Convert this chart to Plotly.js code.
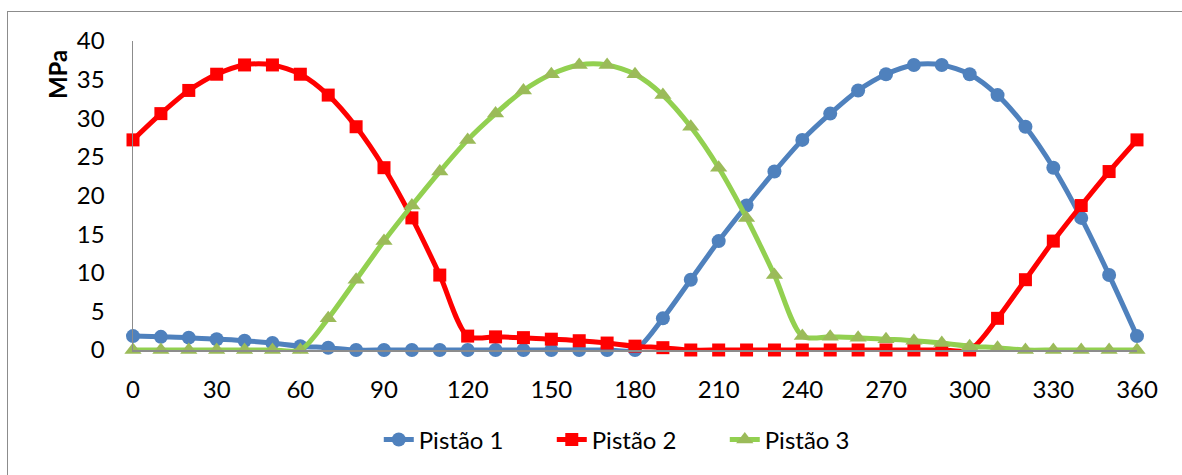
<!DOCTYPE html>
<html>
<head>
<meta charset="utf-8">
<script src="https://cdn.plot.ly/plotly-3.0.1.min.js"></script>
<style>
  html, body { margin: 0; padding: 0; background: #fff; }
  #wrap { position: relative; width: 1182px; height: 475px; overflow: hidden; }
  #chart { position: absolute; left: 0; top: 0; width: 1182px; height: 475px; }
  #frame { position: absolute; left: 7px; top: 11px; width: 1200px; height: 500px;
           border: 1.5px solid #8c8c8c; box-sizing: border-box; pointer-events: none; }
</style>
</head>
<body>
<div id="wrap">
  <div id="chart"></div>
  <div id="frame"></div>
</div>
<script>
const angles = [0,10,20,30,40,50,60,70,80,90,100,110,120,130,140,150,160,170,180,
                190,200,210,220,230,240,250,260,270,280,290,300,310,320,330,340,350,360];

const pistao1 = [1.8,1.7,1.6,1.4,1.2,0.9,0.5,0.3,0,0,0,0,0,0,0,0,0,0,0,
                 4.1,9.1,14.1,18.7,23.1,27.2,30.6,33.6,35.7,36.9,36.9,35.7,33.0,28.9,23.6,17.1,9.7,1.8];

const pistao2 = [27.2,30.6,33.6,35.7,36.9,36.9,35.7,33.0,28.9,23.6,17.1,9.7,
                 1.8,1.7,1.6,1.4,1.2,0.9,0.5,0.3,
                 0,0,0,0,0,0,0,0,0,0,0,
                 4.1,9.1,14.1,18.7,23.1,27.2];

const pistao3 = [0,0,0,0,0,0,0,
                 4.1,9.1,14.1,18.7,23.1,27.2,30.6,33.6,35.7,36.9,36.9,35.7,33.0,28.9,23.6,17.1,9.7,1.8,
                 1.7,1.6,1.4,1.2,0.9,0.5,0.3,
                 0,0,0,0,0];

const seriesNames = ["Pistão 1", "Pistão 2", "Pistão 3"];
const xTicks = [0,30,60,90,120,150,180,210,240,270,300,330,360];
const yTicks = [0,5,10,15,20,25,30,35,40];
const yTitle = "MPa";

const FONT = "Lato, 'Open Sans', sans-serif";

const traces = [
  {
    x: angles, y: pistao1, name: seriesNames[0], type: "scatter", mode: "lines+markers",
    line: { color: "#4F81BD", width: 5, shape: "spline", smoothing: 0.8 },
    marker: { symbol: "circle", size: 14, color: "#4F81BD" },
    cliponaxis: false
  },
  {
    x: angles, y: pistao2, name: seriesNames[1], type: "scatter", mode: "lines+markers",
    line: { color: "#FF0000", width: 5, shape: "spline", smoothing: 0.8 },
    marker: { symbol: "square", size: 13, color: "#FF0000" },
    cliponaxis: false
  },
  {
    x: angles, y: pistao3, name: seriesNames[2], type: "scatter", mode: "lines+markers",
    line: { color: "#92D050", width: 5, shape: "spline", smoothing: 0.8 },
    marker: { symbol: "triangle-up", size: 15, color: "#9BBB59" },
    cliponaxis: false
  }
];

const layout = {
  width: 1182, height: 475,
  margin: { l: 133, r: 45, t: 41, b: 125 },
  paper_bgcolor: "rgba(0,0,0,0)",
  plot_bgcolor: "rgba(0,0,0,0)",
  font: { family: FONT, size: 24, color: "#000" },
  showlegend: true,
  xaxis: {
    range: [0, 360], tickvals: xTicks, ticktext: xTicks.map(String),
    showgrid: false, zeroline: false, showline: true, linecolor: "#8c8c8c", linewidth: 1.5,
    ticks: "", ticklabelstandoff: 18, tickfont: { family: FONT, size: 24, color: "#000" }
  },
  yaxis: {
    range: [0, 40], tickvals: yTicks, ticktext: yTicks.map(String),
    showgrid: false, zeroline: false, showline: true, linecolor: "#8c8c8c", linewidth: 1.5,
    ticks: "", ticklabelstandoff: 22, tickfont: { family: FONT, size: 24, color: "#000" }
  },
  legend: {
    orientation: "h", xref: "container", yref: "container",
    x: 0.54, xanchor: "center", y: 0.074, yanchor: "middle",
    font: { family: FONT, size: 24, color: "#000" },
    itemwidth: 30, entrywidth: 128, entrywidthmode: "pixels",
    tracegroupgap: 0, bgcolor: "rgba(0,0,0,0)"
  },
  annotations: [
    {
      text: "<b>" + yTitle + "</b>", xref: "paper", yref: "paper",
      x: -0.075, xanchor: "center", y: 0.892, yanchor: "middle",
      textangle: -90, showarrow: false,
      font: { family: FONT, size: 24, color: "#000" }
    }
  ]
};

Plotly.newPlot("chart", traces, layout, { displayModeBar: false, staticPlot: true });
</script>
</body>
</html>
